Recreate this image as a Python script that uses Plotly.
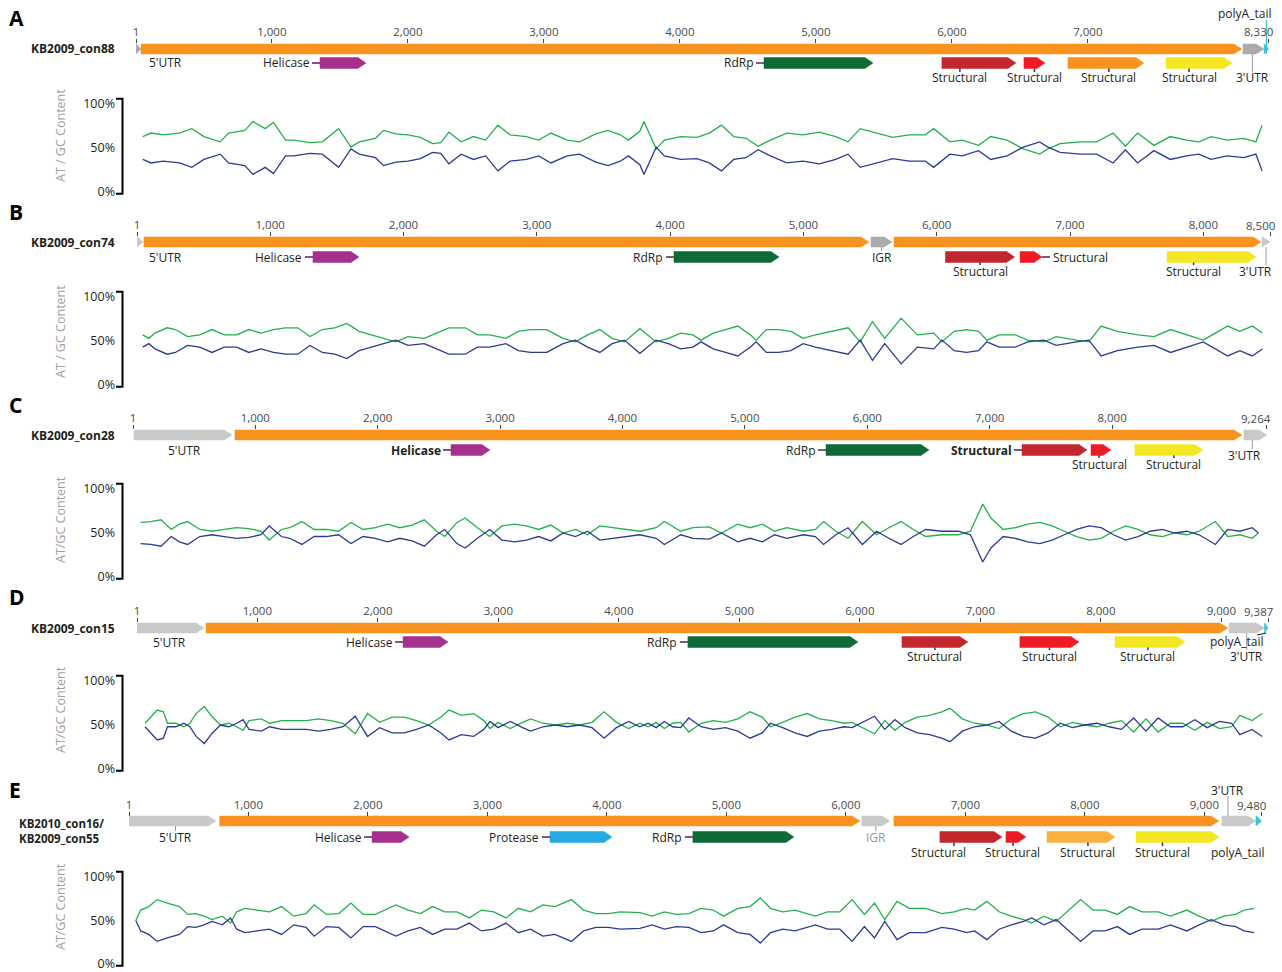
import plotly.graph_objects as go

W, H = 1282, 972
FONT = "Open Sans"
TXT = "#231F20"

# ------------------------------------------------------------------ data
PANELS = ["A", "B", "C", "D", "E"]
LENGTH = {"A": 8330, "B": 8500, "C": 9264, "D": 9387, "E": 9480}
NAME = {"A": ["KB2009_con88"], "B": ["KB2009_con74"], "C": ["KB2009_con28"],
        "D": ["KB2009_con15"], "E": ["KB2010_con16/", "KB2009_con55"]}
YTITLE = {"A": "AT / GC Content", "B": "AT / GC Content", "C": "AT/GC Content",
          "D": "AT/GC Content", "E": "AT/GC Content"}
TICKS = {
    "A": [1, 1000, 2000, 3000, 4000, 5000, 6000, 7000, 8330],
    "B": [1, 1000, 2000, 3000, 4000, 5000, 6000, 7000, 8000, 8500],
    "C": [1, 1000, 2000, 3000, 4000, 5000, 6000, 7000, 8000, 9264],
    "D": [1, 1000, 2000, 3000, 4000, 5000, 6000, 7000, 8000, 9000, 9387],
    "E": [1, 1000, 2000, 3000, 4000, 5000, 6000, 7000, 8000, 9000, 9480],
}

# genome features: (label, start nt, end nt)
FEAT_A = [("5'UTR", 1, 38), ("ORF", 38, 8133), ("Helicase", 1354, 1692),
          ("RdRp", 4619, 5420), ("Structural", 5927, 6471), ("Structural", 6530, 6685),
          ("Structural", 6854, 7412), ("Structural", 7575, 8060),
          ("3'UTR", 8141, 8295), ("polyA_tail", 8296, 8330)]
FEAT_B = [("5'UTR", 1, 46), ("ORF", 53, 5492), ("IGR", 5507, 5665), ("ORF", 5680, 8433),
          ("3'UTR", 8440, 8500), ("Helicase", 1321, 1666), ("RdRp", 4029, 4817),
          ("Structural", 6066, 6584), ("Structural", 6625, 6790), ("Structural", 7728, 8395)]
FEAT_C = [("5'UTR", 9, 810), ("ORF", 834, 9061), ("3'UTR", 9077, 9264),
          ("Helicase", 2599, 2917), ("RdRp", 5663, 6504), ("Structural", 7264, 7795),
          ("Structural", 7828, 7991), ("Structural", 8186, 8742)]
FEAT_D = [("5'UTR", 1, 557), ("ORF", 574, 9055), ("3'UTR", 9063, 9357),
          ("polyA_tail", 9357, 9387), ("Helicase", 2209, 2582), ("RdRp", 4573, 5984),
          ("Structural", 6349, 6896), ("Structural", 7328, 7818), ("Structural", 8117, 8698)]
FEAT_E = [("5'UTR", 1, 729), ("ORF", 760, 6118), ("IGR", 6134, 6368), ("ORF", 6402, 9122),
          ("3'UTR", 9147, 9432), ("polyA_tail", 9432, 9480), ("Helicase", 2035, 2345),
          ("Protease", 3524, 4043), ("RdRp", 4720, 5565), ("Structural", 6787, 7306),
          ("Structural", 7340, 7507), ("Structural", 7683, 8252), ("Structural", 8428, 9122)]

# GC content (%) along the genome: (position nt, GC %)
GC_A = [(51, 37), (111, 33), (201, 35), (321, 33), (411, 28), (501, 37), (621, 43), (681, 33),
        (801, 30), (861, 20), (951, 28), (1011, 21), (1101, 41), (1161, 41), (1281, 44),
        (1371, 43), (1491, 28), (1582, 49), (1642, 43), (1762, 39), (1822, 30), (1912, 34),
        (2002, 35), (2092, 38), (2182, 45), (2242, 44), (2302, 32), (2392, 43), (2482, 37),
        (2572, 41), (2662, 24), (2752, 35), (2872, 37), (2962, 41), (3052, 33), (3172, 41),
        (3262, 43), (3382, 34), (3472, 30), (3562, 35), (3622, 41), (3706, 31), (3736, 20),
        (3826, 51), (3886, 41), (4006, 37), (4126, 38), (4216, 33), (4306, 24), (4396, 37),
        (4486, 39), (4576, 48), (4666, 41), (4786, 33), (4906, 35), (5026, 32), (5146, 37),
        (5236, 43), (5326, 28), (5446, 33), (5566, 38), (5686, 35), (5806, 35), (5866, 28),
        (5986, 43), (6076, 41), (6196, 47), (6286, 37), (6406, 41), (6526, 51), (6646, 57),
        (6706, 51), (6796, 45), (6946, 43), (7066, 43), (7186, 33), (7276, 48), (7366, 33),
        (7486, 47), (7606, 37), (7726, 41), (7816, 43), (7906, 37), (8026, 41), (8146, 39),
        (8236, 43), (8281, 24)]
GC_B = [(44, 43), (90, 47), (136, 41), (227, 35), (289, 37), (380, 45), (472, 43), (564, 37),
        (656, 43), (748, 43), (840, 37), (932, 41), (1024, 37), (1115, 35), (1207, 35),
        (1299, 45), (1391, 37), (1483, 35), (1575, 30), (1667, 39), (1759, 43), (1850, 47),
        (1942, 51), (2034, 45), (2156, 47), (2248, 41), (2340, 35), (2463, 35), (2555, 43),
        (2646, 43), (2769, 47), (2861, 39), (2953, 37), (3075, 37), (3197, 47), (3289, 51),
        (3381, 43), (3473, 37), (3565, 47), (3657, 51), (3773, 36), (3895, 51), (3987, 47),
        (4079, 41), (4171, 43), (4232, 49), (4324, 41), (4416, 37), (4508, 33), (4600, 43),
        (4646, 49), (4722, 37), (4814, 37), (4906, 39), (4998, 47), (5090, 43), (5212, 39),
        (5335, 35), (5426, 51), (5518, 28), (5610, 47), (5733, 24), (5855, 43), (5978, 41),
        (6039, 51), (6131, 39), (6223, 37), (6314, 39), (6376, 49), (6468, 43), (6590, 43),
        (6682, 49), (6804, 51), (6896, 45), (7049, 49), (7141, 51), (7233, 33), (7355, 39),
        (7509, 43), (7631, 45), (7754, 37), (7876, 43), (7999, 49), (8090, 41), (8182, 33),
        (8274, 39), (8366, 33), (8443, 41)]
GC_C = [(63, 38), (147, 37), (230, 35), (313, 46), (380, 40), (447, 37), (547, 46), (647, 48),
        (747, 46), (847, 44), (947, 45), (1047, 48), (1114, 58), (1214, 46), (1281, 44),
        (1381, 37), (1481, 46), (1581, 46), (1681, 48), (1781, 38), (1881, 46), (1981, 44),
        (2081, 40), (2181, 44), (2281, 41), (2381, 35), (2481, 48), (2548, 54), (2648, 38),
        (2715, 33), (2815, 44), (2915, 54), (3015, 42), (3115, 40), (3215, 42), (3315, 46),
        (3415, 41), (3515, 50), (3615, 46), (3715, 52), (3815, 42), (3915, 44), (4049, 46),
        (4142, 48), (4275, 44), (4342, 37), (4476, 48), (4576, 44), (4709, 43), (4809, 50),
        (4942, 40), (5043, 44), (5143, 40), (5243, 48), (5343, 44), (5476, 48), (5576, 46),
        (5643, 37), (5743, 48), (5843, 56), (5960, 37), (6076, 52), (6176, 44), (6276, 37),
        (6376, 46), (6477, 54), (6610, 52), (6743, 52), (6843, 48), (6943, 17), (7010, 33),
        (7110, 46), (7210, 44), (7310, 40), (7410, 38), (7510, 42), (7610, 48), (7710, 54),
        (7811, 58), (7911, 56), (8011, 48), (8111, 42), (8211, 46), (8311, 52), (8411, 54),
        (8511, 50), (8611, 52), (8711, 48), (8844, 37), (8944, 54), (9044, 52), (9145, 56),
        (9195, 50)]
GC_D = [(68, 48), (119, 41), (169, 33), (220, 35), (254, 48), (322, 48), (390, 52), (440, 48),
        (491, 37), (559, 29), (627, 41), (694, 50), (762, 48), (830, 52), (881, 56), (931, 45),
        (1033, 43), (1101, 48), (1202, 45), (1304, 45), (1406, 45), (1507, 43), (1609, 45),
        (1710, 48), (1812, 60), (1914, 37), (2015, 47), (2117, 41), (2218, 41), (2320, 45),
        (2422, 50), (2523, 41), (2591, 33), (2693, 39), (2794, 37), (2879, 45), (2930, 54),
        (2997, 47), (3099, 54), (3201, 47), (3268, 43), (3370, 48), (3472, 50), (3573, 48),
        (3675, 50), (3777, 47), (3878, 35), (3980, 47), (4081, 54), (4174, 48), (4242, 52),
        (4309, 47), (4377, 54), (4445, 48), (4513, 47), (4580, 58), (4682, 48), (4784, 45),
        (4885, 47), (4987, 43), (5088, 35), (5190, 41), (5258, 52), (5359, 47), (5461, 41),
        (5563, 37), (5664, 43), (5766, 45), (5868, 48), (5935, 47), (6003, 52), (6122, 60),
        (6206, 45), (6291, 56), (6376, 47), (6477, 41), (6579, 39), (6680, 35), (6748, 31),
        (6850, 43), (6951, 48), (7053, 50), (7155, 54), (7256, 43), (7358, 37), (7459, 35),
        (7561, 41), (7663, 52), (7764, 47), (7866, 50), (7967, 52), (8069, 48), (8171, 45),
        (8272, 58), (8374, 43), (8475, 58), (8577, 48), (8679, 48), (8780, 56), (8882, 47),
        (8984, 54), (9085, 52), (9153, 39), (9255, 45), (9339, 37)]
GC_E = [(58, 50), (99, 38), (167, 34), (236, 26), (321, 30), (424, 34), (492, 43), (560, 42),
        (629, 45), (697, 49), (782, 45), (851, 53), (902, 40), (970, 36), (1073, 38),
        (1175, 40), (1278, 34), (1380, 45), (1483, 42), (1551, 32), (1653, 43), (1756, 42),
        (1858, 30), (1961, 43), (2063, 43), (2166, 36), (2234, 32), (2337, 38), (2439, 42),
        (2542, 34), (2644, 40), (2746, 40), (2849, 47), (2951, 38), (3054, 40), (3156, 47),
        (3259, 36), (3361, 40), (3464, 32), (3566, 34), (3703, 26), (3805, 38), (3908, 42),
        (4010, 42), (4113, 40), (4277, 41), (4378, 45), (4481, 40), (4583, 43), (4686, 42),
        (4788, 36), (4891, 38), (4976, 45), (5096, 36), (5198, 34), (5284, 24), (5369, 36),
        (5472, 40), (5574, 38), (5745, 45), (5847, 40), (5950, 40), (6052, 26), (6155, 43),
        (6240, 30), (6326, 49), (6428, 28), (6531, 36), (6667, 36), (6804, 42), (6906, 40),
        (7009, 36), (7077, 38), (7180, 28), (7282, 40), (7385, 45), (7487, 49), (7555, 53),
        (7658, 45), (7760, 51), (7863, 38), (7965, 26), (8068, 38), (8170, 38), (8273, 43),
        (8375, 34), (8478, 40), (8614, 40), (8717, 45), (8854, 38), (8956, 45), (9058, 51),
        (9161, 45), (9263, 43), (9332, 38), (9417, 36)]

FEATS = {"A": FEAT_A, "B": FEAT_B, "C": FEAT_C, "D": FEAT_D, "E": FEAT_E}
GCS = {"A": GC_A, "B": GC_B, "C": GC_C, "D": GC_D, "E": GC_E}

# ------------------------------------------------------------------ styles / layout
COL = dict(orf="#F7931E", utr="#C9C9C9", utr2="#ABABAB", hel="#A7308F", rdrp="#0E6A37",
           s1="#C1272D", s2="#ED1C24", s3="#F7931E", s3b="#FBB040", s4="#F2E722",
           prot="#27AAE1", polya="#3FC2D2")
CONN = "#5B1F56"
GREEN, BLUE = "#22B24C", "#2D3A94"
TICKCOL = "#4a4a4a"

# pixel geometry of each panel
GEO = {
    "A": dict(x1=136, x2=1268.7, axis=43, bar=49, feat=63, below=78, gc100=104, gc0=192,
              ty=136, ly=18, ny=[48]),
    "B": dict(x1=137, x2=1270, axis=236, bar=242, feat=257, below=271, gc100=297, gc0=385,
              ty=332, ly=212, ny=[242]),
    "C": dict(x1=133, x2=1266.8, axis=429, bar=435, feat=450, below=464, gc100=489, gc0=577,
              ty=520, ly=405, ny=[435]),
    "D": dict(x1=137, x2=1268, axis=622, bar=628, feat=642, below=656, gc100=681, gc0=769,
              ty=710, ly=597, ny=[628]),
    "E": dict(x1=129, x2=1261.7, axis=816, bar=821, feat=837, below=852, gc100=877, gc0=964,
              ty=907, ly=790, ny=[823, 838]),
}

STYLE = {
    "A": [dict(c="utr2", row="bar", lab="under", dx=27), dict(c="orf", row="bar"),
          dict(c="hel", row="feat", lab="left"), dict(c="rdrp", row="feat", lab="left"),
          dict(c="s1", row="feat", lab="below", dx=-19), dict(c="s2", row="feat", lab="below"),
          dict(c="s3", row="feat", lab="below", dx=3), dict(c="s4", row="feat", lab="below", dx=-10),
          dict(c="utr2", row="bar", lab="line", ly=78, dx=-1, lc="#ABABAB"),
          dict(c="polya", row="bar", lab="line", ly=14, dx=-22, ldx=0, lc="#3FC2D2", through=True)],
    "B": [dict(c="utr", row="bar", lab="under", dx=25), dict(c="orf", row="bar"),
          dict(c="utr2", row="bar", lab="under", tick=True), dict(c="orf", row="bar"),
          dict(c="utr", row="bar", lab="line", ly=271, dx=-11, ldx=0, lc="#ABABAB"),
          dict(c="hel", row="feat", lab="left"), dict(c="rdrp", row="feat", lab="left"),
          dict(c="s1", row="feat", lab="below"), dict(c="s2", row="feat", lab="right"),
          dict(c="s4", row="feat", lab="below", dx=-18)],
    "C": [dict(c="utr", row="bar", lab="under", dx=1), dict(c="orf", row="bar"),
          dict(c="utr", row="bar", lab="line", ly=455, dx=-11, ldx=-3, lc="#ABABAB"),
          dict(c="hel", row="feat", lab="left", b=True), dict(c="rdrp", row="feat", lab="left"),
          dict(c="s1", row="feat", lab="left", b=True), dict(c="s2", row="feat", lab="below", dx=-2),
          dict(c="s4", row="feat", lab="below", dx=5)],
    "D": [dict(c="utr", row="bar", lab="under", dx=-1), dict(c="orf", row="bar"),
          dict(c="utr", row="bar", lab="line", ly=656, dx=0, lc="#ABABAB"),
          dict(c="polya", row="bar", lab="line", ly=641, dx=-30, ldx=0, lax=21, lc=TXT),
          dict(c="hel", row="feat", lab="left"), dict(c="rdrp", row="feat", lab="left"),
          dict(c="s1", row="feat", lab="below"), dict(c="s2", row="feat", lab="below"),
          dict(c="s4", row="feat", lab="below", dx=-2)],
    "E": [dict(c="utr", row="bar", lab="under", dx=3, tick=True), dict(c="orf", row="bar"),
          dict(c="utr", row="bar", lab="under", tick=True, tc="#999999"), dict(c="orf", row="bar"),
          dict(c="utr", row="bar", lab="line", ly=790, dx=-11, lc="#ABABAB"),
          dict(c="polya", row="bar", lab="text", ly=852, dx=-21),
          dict(c="hel", row="feat", lab="left"), dict(c="prot", row="feat", lab="left"),
          dict(c="rdrp", row="feat", lab="left"),
          dict(c="s1", row="feat", lab="below", dx=-32, tdx=-17), dict(c="s2", row="feat", lab="below", dx=-3),
          dict(c="s3b", row="feat", lab="below", dx=7), dict(c="s4", row="feat", lab="below", dx=-15)],
}

BAR_H, FEAT_H, HEAD = 5.0, 5.5, 8.0

fig = go.Figure()
layout = dict(width=W, height=H, margin=dict(l=0, r=0, t=0, b=0, pad=0, autoexpand=False),
              showlegend=False, paper_bgcolor="white", plot_bgcolor="rgba(0,0,0,0)",
              font=dict(family=FONT, size=12, color=TXT))
shapes, annotations = [], []


def axname(n, letter):
    return letter if n == 1 else f"{letter}{n}"


def axkey(n, letter):
    return f"{letter}axis" if n == 1 else f"{letter}axis{n}"


for i, p in enumerate(PANELS):
    g = GEO[p]
    L = LENGTH[p]
    scale = (g["x2"] - g["x1"]) / (L - 1)          # px per nt
    to_nt = lambda px, g=g, scale=scale: 1 + (px - g["x1"]) / scale
    to_px = lambda nt, g=g, scale=scale: g["x1"] + (nt - 1) * scale
    nt_per_px = 1 / scale

    nt_ = 2 * i + 1
    ng_ = 2 * i + 2
    xt, yt = axname(nt_, "x"), axname(nt_, "y")
    xg, yg = axname(ng_, "x"), axname(ng_, "y")

    # ---------------- genome track axes (y in pixel units, reversed)
    top, bot = g["axis"] - 42, g["axis"] + 62
    tick_text = [f"{t:,}" for t in TICKS[p]]
    last_label = tick_text[-1]
    tick_text[-1] = ""   # end label drawn right-aligned below so it stays on the page
    layout[axkey(nt_, "x")] = dict(
        domain=[g["x1"] / W, g["x2"] / W], range=[1, L], anchor="free", position=1 - g["axis"] / H,
        side="top", tickvals=TICKS[p], ticktext=tick_text, ticks="outside",
        ticklen=4, tickwidth=1, tickcolor="#444", showgrid=False, zeroline=False, showline=False,
        tickfont=dict(family=FONT, size=11.5, color=TICKCOL), fixedrange=True, automargin=False,
        ticklabeloverflow="allow", ticklabelstandoff=-2)
    layout[axkey(nt_, "y")] = dict(domain=[1 - bot / H, 1 - top / H], range=[bot, top],
                                   visible=False, anchor="free", position=0, fixedrange=True,
                                   automargin=False)
    annotations.append(dict(x=(to_px(L) + 6.5) / W, y=1 - (g["axis"] - 11) / H, xref="paper",
                            yref="paper", text=last_label, showarrow=False, xanchor="right",
                            yanchor="middle", font=dict(family=FONT, size=11.5, color=TICKCOL)))

    # ---------------- GC axes
    s = (g["gc0"] - g["gc100"]) / 100.0
    ylo, yhi = -3, 107
    ptop, pbot = g["gc0"] - yhi * s, g["gc0"] - ylo * s
    layout[axkey(ng_, "x")] = dict(domain=[g["x1"] / W, g["x2"] / W], range=[1, L], visible=False,
                                   anchor=yg, fixedrange=True, automargin=False)
    layout[axkey(ng_, "y")] = dict(
        domain=[max(0.0, 1 - pbot / H), min(1.0, 1 - ptop / H)], range=[ylo, yhi], anchor="free",
        position=122 / W, tickvals=[0, 50, 100], ticktext=["0%", "50%", "100%"], ticks="",
        showgrid=False, zeroline=False, showline=False, ticklabelstandoff=7, automargin=False,
        ticklabeloverflow="allow",
        tickfont=dict(family=FONT, size=12.5, color=TXT), fixedrange=True)
    # bracket-style axis line
    bt, bb = g["gc0"] - 106 * s, g["gc0"] + 2 * s
    shapes.append(dict(type="path", xref="paper", yref="paper",
                       path=f"M {116/W},{1-bt/H} L {122.5/W},{1-bt/H} L {122.5/W},{1-bb/H} L {116/W},{1-bb/H}",
                       line=dict(color="black", width=2)))

    # ---------------- GC / AT lines
    pos = [a for a, _ in GCS[p]]
    gc = [b for _, b in GCS[p]]
    at = [100 - b for b in gc]
    fig.add_trace(go.Scatter(x=pos, y=at, xaxis=xg, yaxis=yg, mode="lines",
                             line=dict(color=GREEN, width=1.3), hoverinfo="skip"))
    fig.add_trace(go.Scatter(x=pos, y=gc, xaxis=xg, yaxis=yg, mode="lines",
                             line=dict(color=BLUE, width=1.3), hoverinfo="skip"))

    # ---------------- features
    def text(x, y, t, xanchor="center", color=TXT, bold=False, size=12):
        annotations.append(dict(x=x, y=y, xref=xt, yref=yt, text=t, showarrow=False,
                                xanchor=xanchor, yanchor="middle",
                                font=dict(family=FONT, size=size, color=color,
                                          weight="bold" if bold else "normal")))

    def seg(x0, y0, x1, y1, color, width=1.5):
        shapes.append(dict(type="line", xref=xt, yref=yt, x0=x0, y0=y0, x1=x1, y1=y1,
                           line=dict(color=color, width=width)))

    for (lab, st, en), sty in zip(FEATS[p], STYLE[p]):
        yc = g["bar"] if sty["row"] == "bar" else g["feat"]
        h = BAR_H if sty["row"] == "bar" else FEAT_H
        head = min(HEAD * nt_per_px, (en - st) * 0.9)
        xs = [st, en - head, en, en - head, st, st]
        ys = [yc - h, yc - h, yc, yc + h, yc + h, yc - h]
        fig.add_trace(go.Scatter(x=xs, y=ys, xaxis=xt, yaxis=yt, mode="lines", fill="toself",
                                 fillcolor=COL[sty["c"]], line=dict(color=COL[sty["c"]], width=0.5),
                                 hoverinfo="skip"))
        mode = sty.get("lab")
        if not mode:
            continue
        cpx = to_px((st + en) / 2)
        dx = sty.get("dx", 0)
        bold = sty.get("b", False)
        if mode == "left":
            spx = to_px(st)
            seg(to_nt(spx - 8), yc, st, yc, CONN)
            text(to_nt(spx - 8.5), yc, lab, xanchor="right", bold=bold)
        elif mode == "right":
            epx = to_px(en)
            seg(en, yc, to_nt(epx + 8), yc, CONN)
            text(to_nt(epx + 8.5), yc, lab, xanchor="left", bold=bold)
        elif mode == "below":
            lx = cpx + dx
            tx = cpx + sty.get("tdx", dx)
            seg(to_nt(tx), yc + h, to_nt(tx), g["below"] - 6, CONN)
            text(to_nt(lx), g["below"], lab, bold=bold)
        elif mode == "under":
            lx = cpx + dx
            color = sty.get("tc", TXT)
            if sty.get("tick"):
                seg(to_nt(lx), yc + h, to_nt(lx), g["feat"] - 6, "#9A9A9A", 1)
            text(to_nt(lx), g["feat"], lab, color=color)
        elif mode == "text":
            text(to_nt(cpx + dx), sty["ly"], lab)
        elif mode == "line":
            ly = sty["ly"]
            lx = cpx + dx
            xb = cpx + sty.get("ldx", dx)
            if ly > yc:
                ya, yb = ly - 6, yc + h
            else:
                ya, yb = ly + 6, (yc + h if sty.get("through") else yc - h)
            xa = lx + sty["lax"] if "lax" in sty else xb
            seg(to_nt(xa), ya, to_nt(xb), yb, sty["lc"], 1.2)
            text(to_nt(lx), ly, lab)

    # ---------------- panel letter, name, y title
    annotations.append(dict(x=7 / W, y=1 - g["ly"] / H, xref="paper", yref="paper", text=p,
                            showarrow=False, xanchor="left", yanchor="middle",
                            font=dict(family=FONT, size=21, color="black", weight="bold")))
    if len(NAME[p]) == 1:
        annotations.append(dict(x=117 / W, y=1 - g["ny"][0] / H, xref="paper", yref="paper",
                                text=NAME[p][0], showarrow=False, xanchor="right", yanchor="middle",
                                font=dict(family=FONT, size=12, color=TXT, weight="bold")))
    else:
        for nm, yy in zip(NAME[p], g["ny"]):
            annotations.append(dict(x=17 / W, y=1 - yy / H, xref="paper", yref="paper", text=nm,
                                    showarrow=False, xanchor="left", yanchor="middle",
                                    font=dict(family=FONT, size=11.5, color=TXT, weight="bold")))
    annotations.append(dict(x=60 / W, y=1 - g["ty"] / H, xref="paper", yref="paper",
                            text=YTITLE[p], showarrow=False, textangle=-90,
                            xanchor="center", yanchor="middle",
                            font=dict(family=FONT, size=12.5, color="#A0A0A0")))

layout["shapes"] = shapes
layout["annotations"] = annotations
fig.update_layout(**layout)

fig.write_html("out.html", config={"displayModeBar": False},
               post_script="document.body.style.margin='0px';document.body.style.overflow='hidden';")
